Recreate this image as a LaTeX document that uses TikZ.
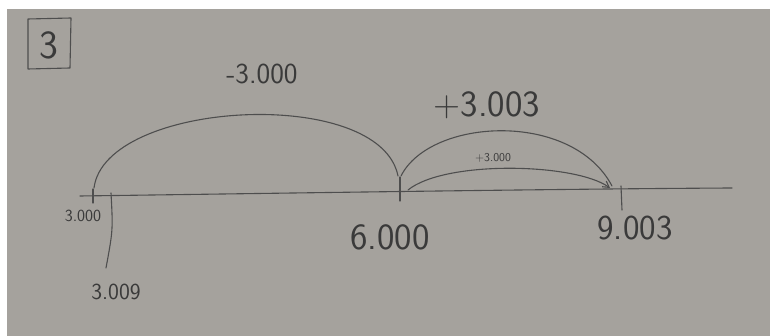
\documentclass[tikz,border=0pt]{standalone}
\usepackage{fontspec}
\usetikzlibrary{arrows.meta}
\definecolor{paper}{RGB}{165,162,157}
\definecolor{pencil}{RGB}{78,78,78}
\definecolor{ink}{RGB}{58,58,58}
\tikzset{
  stroke/.style={draw=pencil, line width=1.1pt, line cap=round, line join=round},
  hand/.style={text=ink, inner sep=0pt, font=\sffamily},
}
\begin{document}
\begin{tikzpicture}[x=1pt,y=-1pt]
\useasboundingbox (0,0) rectangle (772,336);
\fill[white] (0,0) rectangle (772,336);
\fill[paper] (7,9) rectangle (770,336);

% boxed number
\node[hand, font=\sffamily\fontsize{40}{40}\selectfont] (num) at (49,45) {3};
\draw[stroke] (28,19) -- (71,18) -- (70,68) -- (28,69) -- cycle;

% number line
\coordinate (lineL) at (80,196);
\coordinate (lineR) at (732,188);
\draw[stroke] (lineL) .. controls (300,193) and (550,189) .. (lineR);

% ticks
\coordinate (t3a) at (93,189);  \coordinate (t3b) at (93,203);
\coordinate (t6a) at (400,177); \coordinate (t6b) at (400,201);
\coordinate (t9a) at (621,186); \coordinate (t9b) at (622,210);
\draw[stroke] (t3a) -- (t3b);
\draw[stroke] (t6a) -- (t6b);
\draw[stroke] (t9a) -- (t9b);

% 3.009 marker line
\coordinate (m9a) at (111,193);
\coordinate (m9b) at (106,268);
\draw[stroke] (m9a) .. controls (113,230) .. (m9b);

% arcs
\coordinate (a1s) at (94,188);
\coordinate (a1e) at (398,176);
\draw[stroke] (a1s) .. controls (105,100) and (380,85) .. (a1e);
\coordinate (a2s) at (401,176);
\coordinate (a2e) at (612,186);
\draw[stroke] (a2s) .. controls (430,118) and (572,110) .. (a2e);
\coordinate (a3s) at (408,190);
\coordinate (a3e) at (610,188);
\draw[stroke, -{Straight Barb[length=6pt,width=7pt]}] (a3s) .. controls (445,160) and (575,163) .. (a3e);

% labels
\node[hand, font=\sffamily\fontsize{17}{17}\selectfont] (l3000) at (83,216) {3.000};
\node[hand, font=\sffamily\fontsize{23}{23}\selectfont] (l3009) at (116,292) {3.009};
\node[hand, font=\sffamily\fontsize{37}{37}\selectfont] (l6000) at (390,237) {6.000};
\node[hand, font=\sffamily\fontsize{35}{35}\selectfont] (l9003) at (635,228) {9.003};
\node[hand, font=\sffamily\fontsize{29}{29}\selectfont] (lm3000) at (262,74) {-3.000};
\node[hand, font=\sffamily\fontsize{37}{37}\selectfont] (lp3003) at (487,105) {+3.003};
\node[hand, font=\sffamily\fontsize{12}{12}\selectfont] (lp3000) at (493,158) {+3.000};
\end{tikzpicture}
\end{document}
